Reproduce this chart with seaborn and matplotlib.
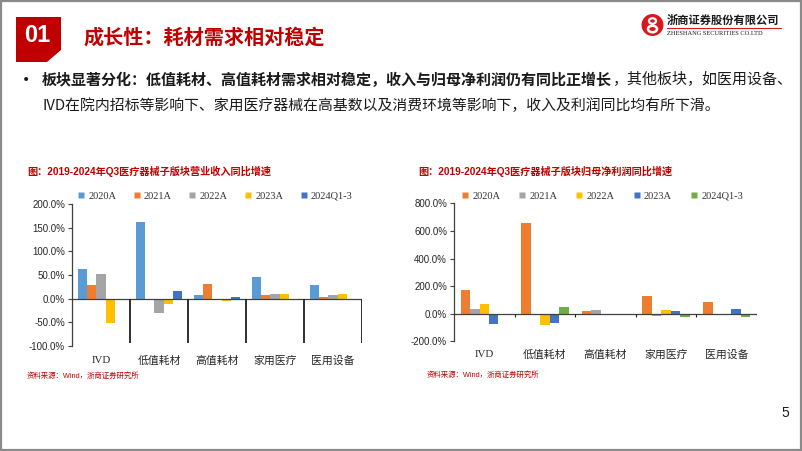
import matplotlib
matplotlib.use('Agg')
import matplotlib.pyplot as plt
import seaborn as sns
import pandas as pd
from matplotlib.patches import Polygon, Rectangle, Circle, Ellipse
from matplotlib.lines import Line2D

# ---------------- data ----------------
categories = ['IVD', '低值耗材', '高值耗材', '家用医疗', '医用设备']

rev_years = ['2020A', '2021A', '2022A', '2023A', '2024Q1-3']
rev_2020 = [62, 161, 8.5, 45, 29]
rev_2021 = [29, -1, 30, 7, 4]
rev_2022 = [51.5, -29.5, -1, 9, 8]
rev_2023 = [-50.5, -11, -4, 10, 10.5]
rev_2024 = [-2, 16, 4, -3, -2]

prof_years = ['2020A', '2021A', '2022A', '2023A', '2024Q1-3']
prof_2020 = [171, 657, 17, 126, 85]
prof_2021 = [34, -5, 27, -19, -2]
prof_2022 = [70, -82, -1, 24, -4]
prof_2023 = [-72, -65, -2, 22, 31]
prof_2024 = [-1, 46, -2, -27, -24]

rev_ticks = [-100, -50, 0, 50, 100, 150, 200]
prof_ticks = [-200, 0, 200, 400, 600, 800]

rev_colors = ['#5B9BD5', '#ED7D31', '#A5A5A5', '#FFC000', '#4472C4']
prof_colors = ['#ED7D31', '#A5A5A5', '#FFC000', '#4472C4', '#70AD47']

page_title = '成长性：耗材需求相对稳定'
bullet_bold = '板块显著分化：低值耗材、高值耗材需求相对稳定，收入与归母净利润仍有同比正增长'
bullet_reg1 = '，其他板块，如医用设备、'
bullet_reg2 = 'IVD在院内招标等影响下、家用医疗器械在高基数以及消费环境等影响下，收入及利润同比均有所下滑。'
left_title = '图：2019-2024年Q3医疗器械子版块营业收入同比增速'
right_title = '图：2019-2024年Q3医疗器械子版块归母净利润同比增速'
source_text = '资料来源：Wind，浙商证券研究所'

# ---------------- setup ----------------
sns.set_theme(style='white')
CJK = ['Noto Sans CJK SC', 'DejaVu Sans']
SERIF = ['Liberation Serif', 'Noto Sans CJK SC']
plt.rcParams['font.family'] = CJK
plt.rcParams['axes.unicode_minus'] = False

W, H = 802, 451
fig = plt.figure(figsize=(W / 100, H / 100), dpi=100)
fig.patch.set_facecolor('white')


def fx(x):
    return x / W


def fy(y):
    return 1 - y / H


RED = '#C00000'
AX_COLOR = '#404040'

# slide border
fig.add_artist(Rectangle((fx(1), fy(450)), fx(800), (449) / H, transform=fig.transFigure,
                         fill=False, ec='#8A8A8A', lw=1.6))

# "01" box
box = Polygon([(fx(16), fy(17)), (fx(61), fy(17)), (fx(61), fy(50)), (fx(47), fy(62)),
               (fx(16), fy(62))], closed=True, transform=fig.transFigure, fc=RED, ec='none')
fig.add_artist(box)
fig.text(fx(37), fy(36), '01', color='white', fontsize=17, fontweight='bold',
         family=['Liberation Sans Narrow', 'Liberation Sans'], ha='center', va='center')

# page title
fig.text(fx(84), fy(37), page_title, color=RED, fontsize=14.5, fontweight='bold',
         family=CJK, ha='left', va='center')

# logo
fig.add_artist(Circle((652.5 / 100, (H - 25) / 100), 0.11, transform=fig.dpi_scale_trans,
                      fc='#D7181F', ec='none'))
fig.add_artist(Ellipse((652.5 / 100, (H - 21) / 100), 0.07, 0.055, transform=fig.dpi_scale_trans,
                       fc='none', ec='white', lw=1.6))
fig.add_artist(Ellipse((652.5 / 100, (H - 29) / 100), 0.09, 0.065, transform=fig.dpi_scale_trans,
                       fc='none', ec='white', lw=1.8))
fig.text(fx(667), fy(20.5), '浙商证券股份有限公司', color='#1a1a1a', fontsize=8.1,
         fontweight='bold', family=CJK, ha='left', va='center')
fig.add_artist(Line2D([fx(667), fx(781)], [fy(28.3), fy(28.3)], transform=fig.transFigure,
                      color='#D7181F', lw=0.8))
fig.text(fx(667), fy(33.5), 'ZHESHANG SECURITIES CO.LTD', color='#1a1a1a', fontsize=4.6,
         family=['Liberation Serif'], ha='left', va='center')

# bullet text
fig.text(fx(22), fy(80), '•', color='#1a1a1a', fontsize=10, family=['DejaVu Sans'],
         ha='left', va='center')
tb = fig.text(fx(42), fy(80), bullet_bold, color='#1a1a1a', fontsize=10.8, fontweight='bold',
              family=CJK, ha='left', va='center')
renderer = fig.canvas.get_renderer()
ext = tb.get_window_extent(renderer)
fig.text(ext.x1 / W, fy(80), bullet_reg1, color='#1a1a1a', fontsize=10.8,
         family=CJK, ha='left', va='center')
fig.text(fx(42), fy(106), bullet_reg2, color='#1a1a1a', fontsize=10.7,
         family=CJK, ha='left', va='center')

# chart titles and sources
fig.text(fx(27), fy(171), left_title, color=RED, fontsize=7.3, fontweight='bold',
         family=['Liberation Sans', 'Noto Sans CJK SC'], ha='left', va='center')
fig.text(fx(418), fy(171), right_title, color=RED, fontsize=7.3, fontweight='bold',
         family=['Liberation Sans', 'Noto Sans CJK SC'], ha='left', va='center')
fig.text(fx(27), fy(376), source_text, color=RED, fontsize=5.3,
         family=['Liberation Sans', 'Noto Sans CJK SC'], ha='left', va='center')
fig.text(fx(427), fy(375), source_text, color=RED, fontsize=5.3,
         family=['Liberation Sans', 'Noto Sans CJK SC'], ha='left', va='center')

# page number
fig.text(fx(785), fy(413), '5', color='#1a1a1a', fontsize=10, family=['Liberation Sans'],
         ha='center', va='center')


def make_df(series, years):
    rows = []
    for yr, vals in zip(years, series):
        for c, v in zip(categories, vals):
            rows.append({'板块': c, '年份': yr, '增速': v})
    return pd.DataFrame(rows)


def draw(ax, df, years, colors, ylim, ticks, div_ymin, div_lw, label_pad):
    sns.barplot(data=df, x='板块', y='增速', hue='年份', order=categories, hue_order=years,
                palette=colors, saturation=1, width=0.78, linewidth=0, legend=False, ax=ax,
                errorbar=None)
    ax.set_xlim(-0.5, 4.5)
    ax.set_ylim(*ylim)
    ax.set_yticks(ticks)
    ax.set_yticklabels([f'{v:.1f}%' for v in ticks], family=['Liberation Sans'], fontsize=7,
                       color='#262626')
    ax.set_xticks(range(len(categories)))
    ax.set_xticklabels(categories, family=SERIF, fontsize=7.8, color='#262626')
    ax.tick_params(axis='x', bottom=False, length=0, pad=label_pad)
    ax.tick_params(axis='y', left=True, length=3, width=0.8, color=AX_COLOR,
                   direction='out', pad=2)
    for s in ['top', 'right', 'bottom']:
        ax.spines[s].set_visible(False)
    ax.spines['left'].set_color(AX_COLOR)
    ax.spines['left'].set_linewidth(0.9)
    ax.axhline(0, color=AX_COLOR, lw=0.9, zorder=3)
    ax.vlines([0.5, 1.5, 2.5, 3.5, 4.5], div_ymin, 0, colors='#202020', lw=div_lw, zorder=3)
    ax.set_xlabel('')
    ax.set_ylabel('')
    ax.set_facecolor('none')
    ax.grid(False)


def legend(years, colors, x0, y0, colspace):
    handles = [Line2D([], [], marker='s', linestyle='none', markersize=4,
                      markerfacecolor=c, markeredgecolor='none') for c in colors]
    fig.legend(handles, years, loc='center left', bbox_to_anchor=(fx(x0), fy(y0)),
               bbox_transform=fig.transFigure, ncol=5, frameon=False,
               prop={'family': ['Liberation Serif'], 'size': 7.5}, labelcolor='#333333',
               handlelength=0.7, handletextpad=0.35, columnspacing=colspace,
               borderpad=0, borderaxespad=0)


ax1 = fig.add_axes([fx(72), fy(346), (362 - 72) / W, (346 - 204) / H])
df_rev = make_df([rev_2020, rev_2021, rev_2022, rev_2023, rev_2024], rev_years)
draw(ax1, df_rev, rev_years, rev_colors, (-100, 200), rev_ticks, -93, 1.3, 7)
legend(rev_years, rev_colors, 77.5, 196, 1.6)

ax2 = fig.add_axes([fx(454), fy(341.3), (757 - 454) / W, (341.3 - 203.3) / H])
df_prof = make_df([prof_2020, prof_2021, prof_2022, prof_2023, prof_2024], prof_years)
draw(ax2, df_prof, prof_years, prof_colors, (-200, 800), prof_ticks, -22, 0.8, 6)
legend(prof_years, prof_colors, 461.5, 196, 1.75)

fig.savefig('out.png', dpi=100, facecolor='white')
